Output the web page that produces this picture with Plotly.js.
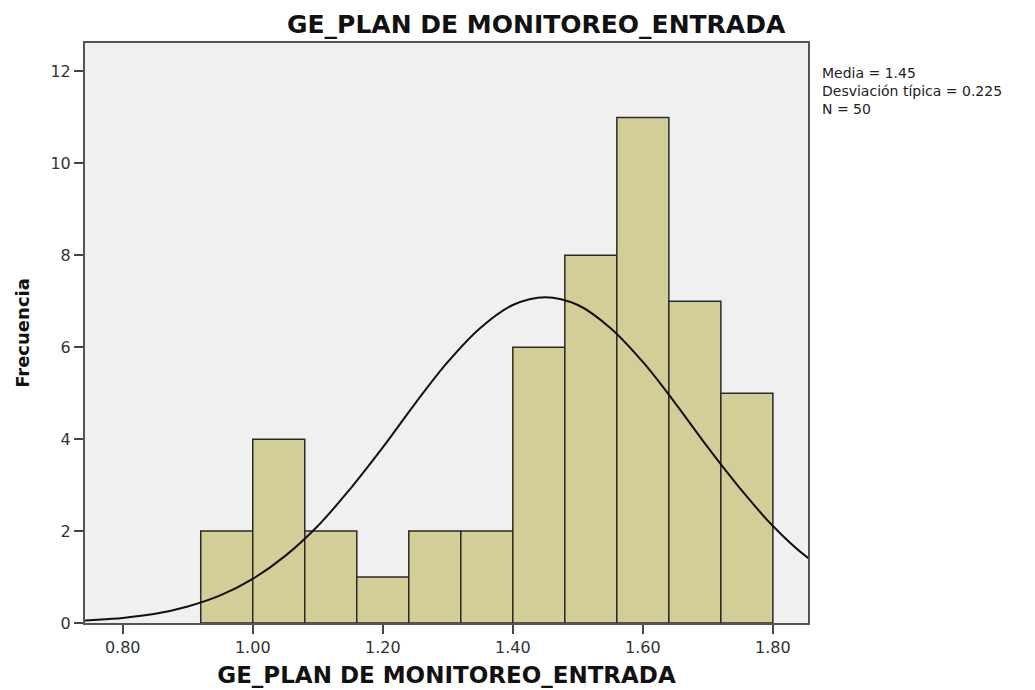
<!DOCTYPE html>
<html>
<head>
<meta charset="utf-8">
<script src="https://cdn.plot.ly/plotly-3.0.1.min.js"></script>
<style>html,body{margin:0;padding:0;background:#fff;}#chart{width:1035px;height:690px;}</style>
</head>
<body>
<div id="chart"></div>
<script>
// Histogram bins (left edges) and frequencies
var binStarts = [0.92, 1.00, 1.08, 1.16, 1.24, 1.32, 1.40, 1.48, 1.56, 1.64, 1.72];
var binWidth = 0.08;
var counts = [2, 4, 2, 1, 2, 2, 6, 8, 11, 7, 5];

// Normal curve
var curveX = [0.74, 0.75, 0.80, 0.85, 0.90, 0.95, 1.00, 1.05, 1.10, 1.15, 1.20, 1.25, 1.30, 1.35, 1.40, 1.45, 1.50, 1.55, 1.60, 1.65, 1.70, 1.75, 1.80, 1.85, 1.86];
var curveY = [0.05, 0.06, 0.11, 0.20, 0.36, 0.60, 0.96, 1.46, 2.11, 2.92, 3.82, 4.78, 5.68, 6.42, 6.92, 7.09, 6.92, 6.42, 5.68, 4.78, 3.82, 2.92, 2.11, 1.46, 1.37];

// Tick labels
var xTickVals = [0.80, 1.00, 1.20, 1.40, 1.60, 1.80];
var xTickText = ['0.80', '1.00', '1.20', '1.40', '1.60', '1.80'];
var yTickVals = [0, 2, 4, 6, 8, 10, 12];
var yTickText = ['0', '2', '4', '6', '8', '10', '12'];

// Texts
var chartTitle = 'GE_PLAN DE MONITOREO_ENTRADA';
var xTitle = 'GE_PLAN DE MONITOREO_ENTRADA';
var yTitle = 'Frecuencia';
var statLines = ['Media = 1.45', 'Desviación típica = 0.225', 'N = 50'];

var widths = binStarts.map(function () { return binWidth; });

var bars = {
  type: 'bar',
  x: binStarts,
  y: counts,
  width: widths,
  offset: 0,
  marker: { color: '#d3ce97', line: { color: '#2a2a2a', width: 1.5 } },
  hoverinfo: 'x+y',
  showlegend: false
};

var curve = {
  type: 'scatter',
  mode: 'lines',
  x: curveX,
  y: curveY,
  line: { color: '#111', width: 2, shape: 'spline', smoothing: 1 },
  hoverinfo: 'skip',
  showlegend: false
};

var fam = 'DejaVu Sans, Liberation Sans, Arial, sans-serif';
var tickFont = { family: fam, size: 16, color: '#333' };

var annotations = [{
  text: statLines.join('<br>'),
  xref: 'paper', yref: 'paper', x: 1.017, y: (623 - 91) / 580,
  xanchor: 'left', yanchor: 'middle', align: 'left', showarrow: false,
  font: { family: fam, size: 14, color: '#222' }
}];

var layout = {
  width: 1035,
  height: 690,
  margin: { l: 85, r: 227, t: 43, b: 67, pad: 0 },
  paper_bgcolor: '#ffffff',
  plot_bgcolor: '#f0f0f0',
  bargap: 0,
  title: {
    text: chartTitle,
    xref: 'paper', x: 0.624, xanchor: 'center',
    yref: 'container', y: 0.965, yanchor: 'middle',
    font: { family: fam, size: 25, weight: 'bold', color: '#111' }
  },
  xaxis: {
    range: [0.742, 1.854],
    tickmode: 'array', tickvals: xTickVals, ticktext: xTickText,
    ticks: 'outside', ticklen: 9, tickwidth: 2, tickcolor: '#444',
    showline: true, mirror: true, linecolor: '#555', linewidth: 2,
    showgrid: false, zeroline: false,
    tickfont: tickFont,
    title: { text: xTitle, standoff: 11, font: { family: fam, size: 23, weight: 'bold', color: '#111' } },
    automargin: false
  },
  yaxis: {
    range: [0, 12.62],
    tickmode: 'array', tickvals: yTickVals, ticktext: yTickText,
    ticks: 'outside', ticklen: 9, tickwidth: 2, tickcolor: '#444',
    showline: true, mirror: true, linecolor: '#555', linewidth: 2,
    showgrid: false, zeroline: false,
    tickfont: tickFont,
    title: { text: yTitle, standoff: 16, font: { family: fam, size: 18, weight: 'bold', color: '#111' } },
    automargin: false
  },
  annotations: annotations
};

Plotly.newPlot('chart', [bars, curve], layout, { displayModeBar: false, staticPlot: true });
</script>
</body>
</html>
